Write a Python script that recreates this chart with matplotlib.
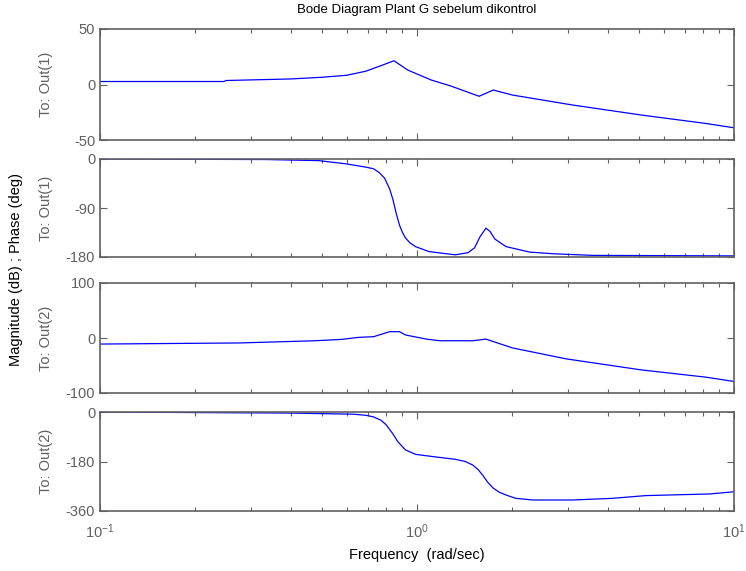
import numpy as np
import matplotlib
matplotlib.use("Agg")
from matplotlib import pyplot as plt
from matplotlib.ticker import LogLocator, FixedLocator, NullFormatter

plt.rcParams['font.family'] = ['Liberation Sans', 'DejaVu Sans']
plt.rcParams['mathtext.fontset'] = 'custom'
plt.rcParams['mathtext.rm'] = 'Liberation Sans'
plt.rcParams['axes.unicode_minus'] = False

# values
# Out(1) magnitude (dB)
f_mag1 = [0.1, 0.246, 0.25, 0.40, 0.50, 0.60, 0.69, 0.77, 0.846, 0.935, 1.11, 1.28, 1.57, 1.74, 2.0, 3.1, 5.1, 8.1, 10.0]
mag1 = [2.7, 2.7, 3.6, 5.0, 6.5, 8.3, 12.0, 17.0, 21.4, 13.0, 4.0, -1.4, -10.6, -5.0, -9.5, -18.5, -27.5, -35.0, -39.0]

# Out(1) phase (deg)
f_ph1 = [0.1, 0.336, 0.49, 0.6, 0.69, 0.73, 0.76, 0.79, 0.82, 0.84, 0.86, 0.88, 0.90, 0.92, 0.95, 0.99, 1.09, 1.32, 1.45,
         1.52, 1.58, 1.65, 1.70, 1.76, 1.91, 2.27, 2.68, 3.58, 10.0]
ph1 = [0, -1, -3, -9, -15, -18, -25, -35, -55, -75, -100, -121, -135, -145, -154, -161, -170, -176, -172,
       -163, -143, -127, -133, -147, -161, -171, -174, -177, -178]

# Out(2) magnitude (dB)
f_mag2 = [0.1, 0.276, 0.476, 0.58, 0.65, 0.73, 0.82, 0.88, 0.92, 1.07, 1.18, 1.50, 1.65, 2.0, 2.96, 5.1, 8.1, 10.0]
mag2 = [-11, -9, -5, -2.5, 1, 2.4, 11.5, 11.5, 5.5, -2, -5, -5, -2, -18, -38, -58, -71, -79]

# Out(2) phase (deg)
f_ph2 = [0.1, 0.406, 0.63, 0.69, 0.73, 0.77, 0.80, 0.84, 0.87, 0.92, 0.99, 1.12, 1.32, 1.42, 1.50, 1.56, 1.61, 1.67, 1.74,
         1.82, 1.91, 2.05, 2.32, 3.1, 4.13, 5.27, 8.4, 10.0]
ph2 = [0, -4, -8, -12, -18, -30, -47, -80, -108, -138, -154, -162, -172, -180, -193, -210, -229, -255, -277,
       -292, -302, -314, -320, -320, -314, -304, -298, -290]

panels = [
    (f_mag1, mag1, (-50, 50), [-50, 0, 50], "To: Out(1)"),
    (f_ph1, ph1, (-180, 0), [-180, -90, 0], "To: Out(1)"),
    (f_mag2, mag2, (-100, 100), [-100, 0, 100], "To: Out(2)"),
    (f_ph2, ph2, (-360, 0), [-360, -180, 0], "To: Out(2)"),
]

# axes boxes in pixels (top, bottom)
rows = [(29, 140), (159, 257), (283, 393), (412, 511)]

W, H = 746, 571
fig = plt.figure(figsize=(W / 100, H / 100), dpi=100)
gray = '#606060'

for i, (fx, fy, ylim, yt, lab) in enumerate(panels):
    top, bot = rows[i]
    ax = fig.add_axes([100 / W, 1 - bot / H, 634 / W, (bot - top) / H])
    ax.semilogx(fx, fy, color='blue', lw=0.9)
    ax.set_xlim(0.1, 10)
    ax.set_ylim(*ylim)
    ax.yaxis.set_major_locator(FixedLocator(yt))
    ax.set_yticklabels([str(v) for v in yt])
    ax.xaxis.set_major_locator(LogLocator(base=10))
    ax.xaxis.set_minor_locator(LogLocator(base=10, subs=np.arange(2, 10)))
    ax.xaxis.set_minor_formatter(NullFormatter())
    if i < 3:
        ax.set_xticklabels([])
    ax.tick_params(which='both', direction='in', top=True, right=True,
                   colors=gray, labelcolor=gray, labelsize=10.5, width=0.8)
    ax.tick_params(which='major', length=5)
    ax.tick_params(which='minor', length=3)
    for s in ax.spines.values():
        s.set_color(gray)
        s.set_linewidth(1.2)
    ax.text(-0.085, 0.5, lab, transform=ax.transAxes, rotation=90,
            ha='center', va='center', color=gray, fontsize=10.5)
    if i == 3:
        ax.tick_params(axis='x', pad=8)

fig.text(417 / W, 1 - 10 / H, "Bode Diagram Plant G sebelum dikontrol",
         ha='center', va='center', fontsize=9.5)
fig.text(417 / W, 1 - 555 / H, "Frequency  (rad/sec)",
         ha='center', va='center', fontsize=10.5)
fig.text(16 / W, 1 - 270 / H, "Magnitude (dB) ; Phase (deg)", rotation=90,
         ha='center', va='center', fontsize=10.5)

fig.savefig("out.png", dpi=100)
